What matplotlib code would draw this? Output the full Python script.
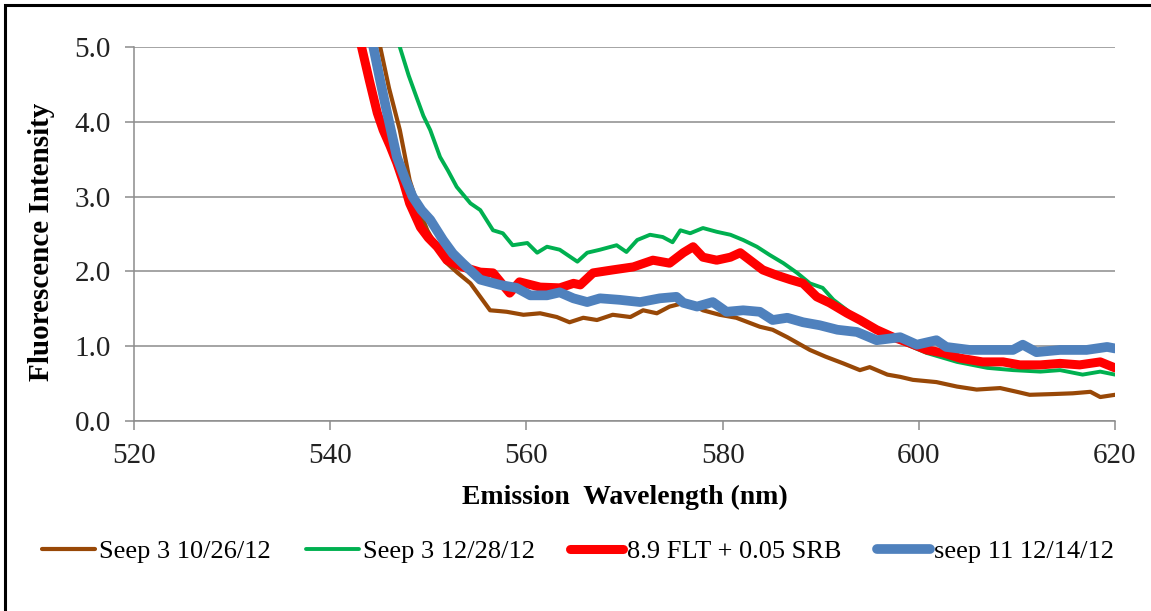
import matplotlib
matplotlib.use("Agg")
import matplotlib.pyplot as plt
from matplotlib.patches import Rectangle

plt.rcParams["font.family"] = ["Liberation Serif", "DejaVu Serif"]

# Seep 3 10/26/12
brown_x = [544.3, 545.1, 546.0, 547.1, 548.1, 549.0, 549.9, 551.0, 551.9, 553.0, 554.3,
           555.3, 556.3, 557.2, 558.0, 559.7, 561.4, 563.1, 564.4, 565.8, 567.2, 568.8,
           570.6, 571.9, 573.3, 574.6, 576.4, 578.0, 579.7, 581.4, 582.8, 583.8, 585.1,
           586.6, 588.9, 590.5, 592.3, 594.0, 595.0, 596.8, 598.1, 599.4, 601.8, 603.9,
           605.9, 608.3, 610.0, 611.3, 613.7, 615.7, 617.5, 618.5, 620.0]
brown_y = [5.6, 5.0, 4.45, 3.89, 3.22, 2.85, 2.55, 2.30, 2.11, 1.98, 1.84,
           1.66, 1.48, 1.47, 1.46, 1.42, 1.44, 1.39, 1.32, 1.38, 1.35, 1.42,
           1.39, 1.48, 1.44, 1.53, 1.59, 1.48, 1.42, 1.38, 1.31, 1.26, 1.22,
           1.12, 0.95, 0.86, 0.77, 0.68, 0.72, 0.62, 0.59, 0.55, 0.52, 0.46,
           0.42, 0.44, 0.39, 0.35, 0.36, 0.37, 0.39, 0.32, 0.35]

# Seep 3 12/28/12
green_x = [546.6, 547.1, 548.0, 548.8, 549.5, 550.2, 551.2, 552.0, 552.9, 554.3, 555.3,
           556.6, 557.6, 558.6, 560.1, 561.1, 562.1, 563.4, 565.2, 566.2, 567.5, 569.2,
           570.2, 571.3, 572.6, 573.9, 574.9, 575.7, 576.7, 578.0, 579.4, 580.8, 582.1,
           583.5, 584.8, 586.2, 587.6, 588.9, 590.2, 591.3, 592.7, 594.2, 596.0, 598.1,
           600.8, 603.9, 607.0, 609.6, 612.4, 614.4, 616.7, 618.5, 620.0]
green_y = [5.6, 5.0, 4.62, 4.33, 4.08, 3.89, 3.53, 3.35, 3.13, 2.91, 2.82,
           2.55, 2.51, 2.35, 2.38, 2.25, 2.33, 2.29, 2.13, 2.25, 2.29, 2.35,
           2.26, 2.42, 2.49, 2.46, 2.39, 2.55, 2.51, 2.58, 2.53, 2.49, 2.42,
           2.33, 2.22, 2.11, 1.98, 1.84, 1.78, 1.62, 1.48, 1.30, 1.18, 1.06,
           0.91, 0.79, 0.71, 0.68, 0.66, 0.68, 0.62, 0.66, 0.62]

# 8.9 FLT + 0.05 SRB
red_x = [542.5, 543.2, 544.0, 544.8, 545.4, 546.1, 546.8, 547.5, 548.1, 549.2, 550.0,
         550.9, 551.9, 553.5, 555.3, 556.6, 558.3, 559.3, 561.4, 563.4, 564.8, 565.5,
         566.8, 568.8, 570.9, 572.9, 574.6, 576.0, 577.0, 578.0, 579.4, 580.8, 581.8,
         582.8, 584.1, 585.5, 586.9, 588.2, 589.6, 590.9, 592.7, 594.0, 595.7, 597.4,
         599.1, 600.8, 602.5, 604.2, 606.5, 608.6, 610.3, 612.4, 614.4, 616.4, 618.5,
         620.0]
red_y = [5.6, 5.0, 4.55, 4.12, 3.89, 3.68, 3.45, 3.18, 2.91, 2.59, 2.45,
         2.33, 2.15, 2.06, 1.99, 1.98, 1.71, 1.86, 1.79, 1.78, 1.84, 1.82,
         1.98, 2.02, 2.06, 2.15, 2.11, 2.25, 2.33, 2.19, 2.15, 2.19, 2.25,
         2.15, 2.02, 1.95, 1.89, 1.84, 1.66, 1.58, 1.44, 1.35, 1.22, 1.12,
         1.04, 0.95, 0.91, 0.84, 0.79, 0.79, 0.75, 0.75, 0.77, 0.75, 0.79,
         0.71]

# seep 11 12/14/12
blue_x = [543.8, 544.4, 545.1, 545.8, 546.8, 547.6, 548.4, 549.3, 550.2, 551.5, 552.5,
          553.5, 555.3, 557.3, 559.0, 560.4, 562.1, 563.4, 564.8, 566.2, 567.5, 569.5,
          571.6, 573.6, 575.3, 576.0, 577.4, 579.0, 580.4, 582.1, 583.8, 585.1, 586.6,
          588.2, 589.9, 591.7, 593.7, 595.7, 598.1, 599.8, 601.8, 602.8, 605.2, 607.6,
          609.6, 610.6, 612.0, 614.4, 617.1, 619.2, 620.0]
blue_y = [5.6, 5.0, 4.55, 4.12, 3.53, 3.25, 3.00, 2.82, 2.69, 2.42, 2.24,
          2.11, 1.89, 1.82, 1.78, 1.68, 1.68, 1.72, 1.64, 1.59, 1.64, 1.62,
          1.59, 1.64, 1.66, 1.58, 1.53, 1.59, 1.46, 1.48, 1.46, 1.35, 1.38,
          1.32, 1.28, 1.22, 1.19, 1.08, 1.12, 1.02, 1.08, 0.99, 0.95, 0.95,
          0.95, 1.02, 0.92, 0.95, 0.95, 0.99, 0.97]

series = [
    (brown_x, brown_y, "#984807", 3.0, "Seep 3 10/26/12"),
    (green_x, green_y, "#00B050", 2.8, "Seep 3 12/28/12"),
    (red_x, red_y, "#FF0000", 6.5, "8.9 FLT + 0.05 SRB"),
    (blue_x, blue_y, "#4F81BD", 7.0, "seep 11 12/14/12"),
]

fig = plt.figure(figsize=(11.51, 6.11), dpi=100)
ax = fig.add_axes([0.1164, 0.311, 0.8523, 0.612])

for xs, ys, color, lw, label in series:
    ax.plot(xs, ys, color=color, linewidth=lw, label=label,
            solid_capstyle="round", solid_joinstyle="round")

ax.set_xlim(520, 620)
ax.set_ylim(0, 5)
ax.set_xticks([520, 540, 560, 580, 600, 620])
ax.set_yticks([0, 1, 2, 3, 4, 5])
ax.set_yticklabels([f"{v:.1f}" for v in [0, 1, 2, 3, 4, 5]])

grid_color = "#8C8C8C"
ax.grid(axis="y", color=grid_color, linewidth=1.1)
ax.set_axisbelow(True)
for side in ["top", "right"]:
    ax.spines[side].set_visible(False)
for side in ["left", "bottom"]:
    ax.spines[side].set_color(grid_color)
    ax.spines[side].set_linewidth(1.1)
ax.tick_params(axis="both", direction="out", length=6.5, width=1.1,
               color=grid_color, labelsize=21, labelcolor="#222222")
ax.tick_params(axis="y", pad=10)
ax.tick_params(axis="x", pad=9)

ax.set_xlabel("Emission  Wavelength (nm)", fontsize=20, fontweight="bold", labelpad=12)
ax.set_ylabel("Fluorescence Intensity", fontsize=21, fontweight="bold")
ax.yaxis.set_label_coords(-0.081, 0.48)

fig.legend(loc="center", bbox_to_anchor=(0.502, 0.098), ncol=4, frameon=False,
           fontsize=19, handlelength=2.0, handletextpad=0.15, columnspacing=1.35)

# chart border (right and bottom edges fall outside the image)
fig.patches.append(Rectangle((5 / 1151, -0.1), 1.2, 1.1 - 5 / 611,
                             transform=fig.transFigure, fill=False,
                             edgecolor="black", linewidth=2.2))

fig.savefig("out.png", dpi=100)
